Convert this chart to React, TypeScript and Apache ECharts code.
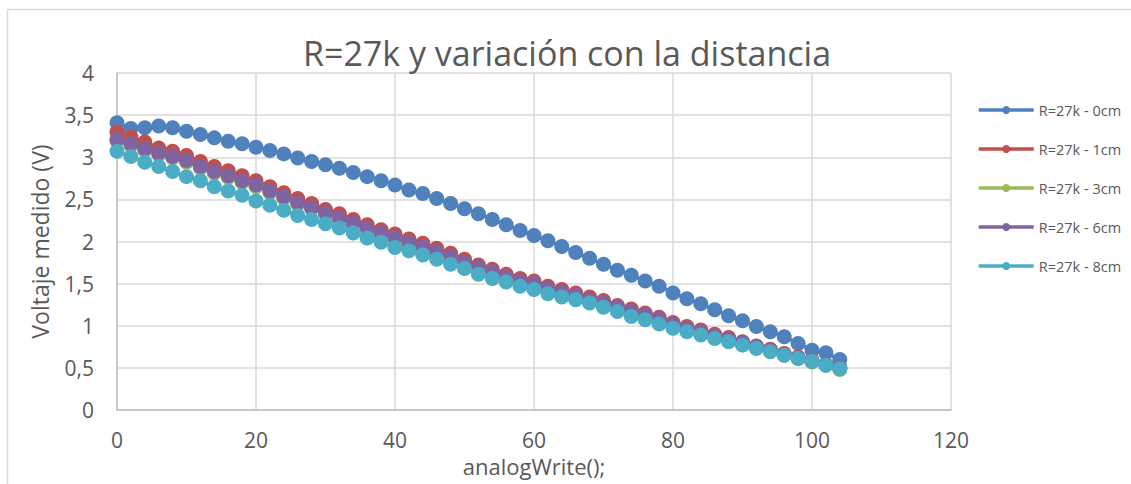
import React, { useEffect, useRef } from "react";
import * as echarts from "echarts";

const xValues = [0, 2, 4, 6, 8, 10, 12, 14, 16, 18, 20, 22, 24, 26, 28, 30, 32, 34, 36, 38, 40, 42, 44, 46, 48, 50, 52, 54, 56, 58, 60, 62, 64, 66, 68, 70, 72, 74, 76, 78, 80, 82, 84, 86, 88, 90, 92, 94, 96, 98, 100, 102, 104];

const v0cm = [3.41, 3.34, 3.35, 3.37, 3.35, 3.31, 3.27, 3.23, 3.19, 3.16, 3.12, 3.08, 3.04, 2.99, 2.95, 2.91, 2.87, 2.82, 2.77, 2.72, 2.67, 2.61, 2.57, 2.51, 2.45, 2.39, 2.33, 2.26, 2.20, 2.13, 2.07, 2.01, 1.94, 1.87, 1.80, 1.73, 1.66, 1.60, 1.53, 1.47, 1.39, 1.32, 1.26, 1.19, 1.12, 1.06, 0.99, 0.93, 0.87, 0.79, 0.71, 0.68, 0.60];
const v1cm = [3.30, 3.24, 3.18, 3.11, 3.07, 3.02, 2.95, 2.89, 2.84, 2.78, 2.72, 2.65, 2.58, 2.51, 2.45, 2.38, 2.33, 2.26, 2.20, 2.14, 2.09, 2.03, 1.98, 1.92, 1.86, 1.79, 1.72, 1.67, 1.61, 1.56, 1.53, 1.47, 1.43, 1.39, 1.34, 1.30, 1.24, 1.20, 1.15, 1.10, 1.04, 0.99, 0.95, 0.90, 0.86, 0.81, 0.76, 0.72, 0.67, 0.63, 0.59, 0.54, 0.50];
const v3cm = [3.19, 3.14, 3.08, 3.03, 2.99, 2.94, 2.87, 2.81, 2.76, 2.70, 2.65, 2.58, 2.51, 2.44, 2.39, 2.32, 2.26, 2.20, 2.14, 2.08, 2.03, 1.97, 1.92, 1.86, 1.80, 1.73, 1.67, 1.62, 1.56, 1.51, 1.48, 1.42, 1.38, 1.34, 1.29, 1.25, 1.20, 1.15, 1.10, 1.05, 1.00, 0.95, 0.91, 0.86, 0.82, 0.78, 0.74, 0.70, 0.65, 0.61, 0.57, 0.53, 0.48];
const v6cm = [3.21, 3.16, 3.10, 3.05, 3.01, 2.96, 2.89, 2.83, 2.78, 2.72, 2.67, 2.60, 2.53, 2.46, 2.40, 2.34, 2.28, 2.22, 2.16, 2.10, 2.05, 1.99, 1.94, 1.88, 1.82, 1.75, 1.69, 1.64, 1.58, 1.53, 1.50, 1.44, 1.40, 1.36, 1.31, 1.27, 1.22, 1.17, 1.13, 1.08, 1.02, 0.97, 0.93, 0.88, 0.84, 0.80, 0.75, 0.71, 0.66, 0.62, 0.58, 0.54, 0.50];
const v8cm = [3.07, 3.01, 2.94, 2.89, 2.83, 2.77, 2.72, 2.65, 2.60, 2.55, 2.48, 2.43, 2.37, 2.31, 2.26, 2.21, 2.16, 2.10, 2.04, 1.99, 1.93, 1.89, 1.84, 1.79, 1.73, 1.68, 1.61, 1.56, 1.52, 1.47, 1.43, 1.38, 1.34, 1.31, 1.27, 1.22, 1.17, 1.11, 1.07, 1.02, 0.97, 0.93, 0.89, 0.85, 0.81, 0.77, 0.73, 0.69, 0.65, 0.61, 0.58, 0.53, 0.49];

const seriesNames = ["R=27k - 0cm", "R=27k - 1cm", "R=27k - 3cm", "R=27k - 6cm", "R=27k - 8cm"];
const seriesValues = [v0cm, v1cm, v3cm, v6cm, v8cm];
const seriesColors = ["#4F81BD", "#C0504D", "#9BBB59", "#8064A2", "#4BACC6"];

const titleText = "R=27k y variación con la distancia";
const xAxisName = "analogWrite();";
const yAxisName = "Voltaje medido (V)";

const FONT = "'Open Sans', sans-serif";
const TXT = "#595959";

export default function App() {
  const ref = useRef<HTMLDivElement>(null);
  useEffect(() => {
    if (!ref.current) return;
    const chart = echarts.init(ref.current, null, { renderer: "svg" });
    chart.setOption({
      animation: false,
      backgroundColor: "#ffffff",
      title: {
        text: titleText,
        left: 562,
        textAlign: "center",
        top: 31,
        textStyle: { fontFamily: FONT, fontWeight: "normal", fontSize: 34, color: TXT },
      },
      graphic: [
        {
          type: "rect",
          shape: { x: 7.5, y: 9.5, width: 1200, height: 600 },
          style: { fill: "none", stroke: "#D9D9D9", lineWidth: 1.5 },
          silent: true,
        },
      ],
      legend: {
        orient: "vertical",
        left: 972,
        top: 97,
        itemWidth: 55,
        itemHeight: 10,
        itemGap: 23,
        lineStyle: { width: 3.5 },
        textStyle: { fontFamily: FONT, fontSize: 14.5, color: TXT, lineHeight: 16 },
        data: seriesNames,
      },
      grid: { left: 117, top: 73, width: 834, height: 337, containLabel: false },
      xAxis: {
        type: "value",
        min: 0,
        max: 120,
        interval: 20,
        name: xAxisName,
        nameLocation: "middle",
        nameGap: 44,
        nameTextStyle: { fontFamily: FONT, fontSize: 22, color: TXT },
        axisLine: { show: true, lineStyle: { color: "#BFBFBF", width: 1.5 } },
        axisTick: { show: false },
        axisLabel: { fontFamily: FONT, fontSize: 21, color: TXT, margin: 19 },
        splitLine: { show: true, lineStyle: { color: "#D9D9D9", width: 1.5 } },
      },
      yAxis: {
        type: "value",
        min: 0,
        max: 4,
        interval: 0.5,
        name: yAxisName,
        nameLocation: "middle",
        nameRotate: 90,
        nameGap: 66,
        nameTextStyle: { fontFamily: FONT, fontSize: 23, color: TXT },
        axisLine: { show: true, lineStyle: { color: "#BFBFBF", width: 1.5 } },
        axisTick: { show: false },
        axisLabel: {
          fontFamily: FONT,
          fontSize: 21,
          color: TXT,
          margin: 23,
          formatter: (v: number) => String(v).replace(".", ","),
        },
        splitLine: { show: true, lineStyle: { color: "#D9D9D9", width: 1.5 } },
      },
      series: seriesNames.map((name, i) => ({
        name,
        type: "line",
        data: xValues.map((x, j) => [x, seriesValues[i][j]]),
        symbol: "circle",
        symbolSize: 15,
        showSymbol: true,
        color: seriesColors[i],
        lineStyle: { width: 3.5, color: seriesColors[i] },
        itemStyle: { color: seriesColors[i] },
        z: 2 + i,
      })),
    });
    return () => chart.dispose();
  }, []);
  return (
    <div
      ref={ref}
      style={{ position: "absolute", left: 0, top: 0, width: 1131, height: 484 }}
    />
  );
}
